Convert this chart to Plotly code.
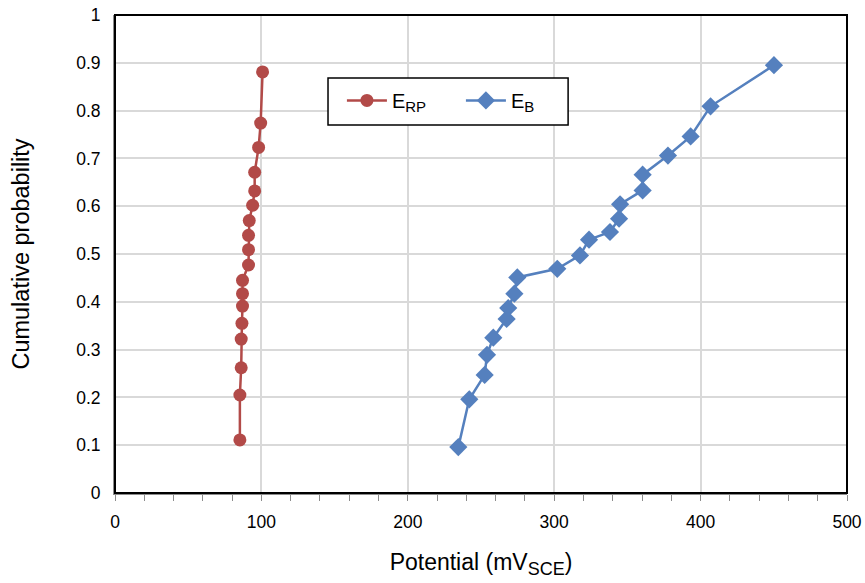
import plotly.graph_objects as go

# Cumulative probability of repassivation (E_RP) and breakdown (E_B) potentials
erp_potential = [85.3, 85.3, 86.2, 86.2, 86.7, 87.1, 87.1, 87.1, 91.2, 91.2,
                 91.2, 91.7, 94.0, 95.4, 95.4, 98.1, 99.5, 100.8]
erp_probability = [0.111, 0.205, 0.262, 0.322, 0.355, 0.391, 0.417, 0.445, 0.477, 0.509,
                   0.539, 0.570, 0.602, 0.632, 0.671, 0.723, 0.774, 0.881]

eb_potential = [234.5, 242.0, 252.5, 254.1, 258.4, 267.5, 268.6, 272.8, 274.8, 302.1,
                317.6, 323.8, 338.1, 344.3, 345.0, 360.4, 360.4, 377.7, 393.2, 406.8, 450.1]
eb_probability = [0.096, 0.196, 0.247, 0.289, 0.325, 0.364, 0.387, 0.417, 0.451, 0.469,
                  0.497, 0.530, 0.546, 0.574, 0.604, 0.633, 0.666, 0.706, 0.746, 0.809, 0.895]

x_ticks = [0, 100, 200, 300, 400, 500]
y_ticks = [round(0.1 * i, 1) for i in range(11)]
y_tick_labels = ["0" if v == 0 else ("1" if v == 1 else f"{v:.1f}") for v in y_ticks]

RED = "#B24A48"
BLUE = "#5580BE"
FONT = "Liberation Sans, Arial, sans-serif"

fig = go.Figure()
fig.add_trace(go.Scatter(
    x=erp_potential, y=erp_probability, mode="lines+markers",
    name='E<sub><span style="font-size:15px">RP</span></sub>',
    line=dict(color=RED, width=2.5),
    marker=dict(symbol="circle", size=13, color=RED),
))
fig.add_trace(go.Scatter(
    x=eb_potential, y=eb_probability, mode="lines+markers",
    name='E<sub><span style="font-size:15px">B</span></sub>',
    line=dict(color=BLUE, width=2.5),
    marker=dict(symbol="diamond", size=14, color=BLUE),
))

fig.update_layout(
    width=865, height=583,
    margin=dict(l=115, r=18, t=15, b=90),
    paper_bgcolor="white", plot_bgcolor="white",
    font=dict(family=FONT, color="black", size=17),
    showlegend=True,
    legend=dict(
        orientation="h",
        x=0.310, y=0.862, xanchor="left", yanchor="top",
        bgcolor="rgba(0,0,0,0)", borderwidth=0,
        font=dict(size=20, family=FONT),
        itemwidth=40, tracegroupgap=0,
        entrywidth=64,
    ),
    xaxis=dict(
        range=[0, 500], tickvals=x_ticks, ticktext=[str(v) for v in x_ticks],
        automargin=False,
        showgrid=True, gridcolor="#D9D9D9", gridwidth=1.5,
        showline=True, linecolor="#8C8C8C", linewidth=2,
        ticks="", tickfont=dict(size=17.5),
        minor=dict(dtick=20, ticks="outside", ticklen=6, tickcolor="#8C8C8C",
                   tickwidth=1, showgrid=False),
        ticklabelstandoff=12,
        title=dict(text='Potential (mV<sub><span style="font-size:18px">SCE</span></sub>)',
                   font=dict(size=23), standoff=23),
        zeroline=False,
    ),
    yaxis=dict(
        range=[0, 1], tickvals=y_ticks, ticktext=y_tick_labels,
        automargin=False,
        showgrid=True, gridcolor="#D9D9D9", gridwidth=1.5,
        showline=True, linecolor="#8C8C8C", linewidth=2,
        ticks="", tickfont=dict(size=17.5),
        ticklabelstandoff=9,
        title=dict(text="Cumulative probability", font=dict(size=23.5), standoff=40),
        zeroline=False,
    ),
    shapes=[
        # legend frame
        dict(type="rect", xref="paper", yref="paper",
             x0=0.291, x1=0.619, y0=0.770, y1=0.868,
             line=dict(color="black", width=1.5), fillcolor="white", layer="above"),
        # plot-area frame
        dict(type="rect", xref="paper", yref="paper", x0=0, y0=0, x1=1, y1=1,
             line=dict(color="black", width=2), layer="above"),
    ],
)

fig.write_html("out.html")
